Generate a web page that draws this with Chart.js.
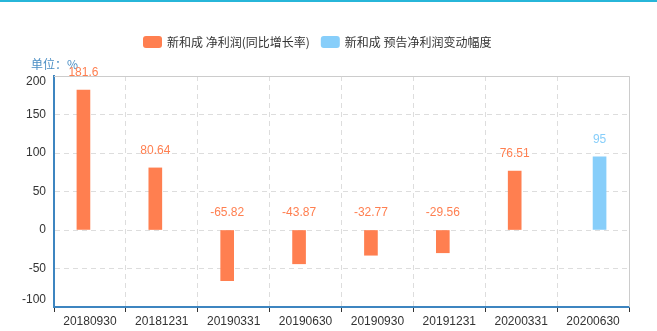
<!DOCTYPE html>
<html><head><meta charset="utf-8">
<script src="https://cdn.jsdelivr.net/npm/chart.js@4/dist/chart.umd.min.js"></script>
<style>html,body{margin:0;padding:0;background:#fff;}#wrap{width:657px;height:331px;}</style>
</head><body><div id="wrap"><canvas id="c" width="657" height="331"></canvas></div>
<script>
const categories = ['20180930','20181231','20190331','20190630','20190930','20191231','20200331','20200630'];
const profitGrowth = [181.6, 80.64, -65.82, -43.87, -32.77, -29.56, 76.51, null];
const forecastChange = [null, null, null, null, null, null, null, 95];
const seriesNames = ['新和成 净利润(同比增长率)', '新和成 预告净利润变动幅度'];
const yTicks = [200, 150, 100, 50, 0, -50, -100];
const unitText = '单位：%';

const ORANGE = '#ff7f50', BLUE = '#87cefa';
const CJK = '"Noto Sans CJK SC", "Noto Sans", sans-serif';
const LAT = '"Liberation Sans", Arial, sans-serif';

const deco = {
  id: 'deco',
  beforeDraw(chart) {
    const ctx = chart.ctx;
    ctx.save();
    ctx.fillStyle = '#fff';
    ctx.fillRect(0, 0, chart.width, chart.height);
    ctx.fillStyle = '#27b6d9';
    ctx.fillRect(0, 0, chart.width, 2);
    ctx.restore();
  },
  afterDraw(chart) {
    const ctx = chart.ctx, a = chart.chartArea, ys = chart.scales.y;
    ctx.save();
    // top and right border
    ctx.strokeStyle = '#cccccc';
    ctx.lineWidth = 1;
    ctx.beginPath();
    ctx.moveTo(a.left, a.top + 0.5); ctx.lineTo(a.right + 0.5, a.top + 0.5);
    ctx.lineTo(a.right + 0.5, a.bottom);
    ctx.stroke();
    // y labels
    ctx.font = '12px ' + LAT;
    ctx.fillStyle = '#333';
    ctx.textAlign = 'right';
    ctx.textBaseline = 'middle';
    yTicks.forEach(v => {
      let py = ys.getPixelForValue(v);
      py = Math.max(a.top + 6, Math.min(a.bottom - 7, py));
      ctx.fillText(String(v), 46, py);
    });
    // unit
    ctx.font = '12px ' + CJK;
    ctx.fillStyle = '#4a8ec4';
    ctx.textAlign = 'left';
    ctx.fillText(unitText, 31, 64);
    // data labels
    ctx.font = '12px ' + LAT;
    ctx.textAlign = 'center';
    chart.data.datasets.forEach((ds, di) => {
      const meta = chart.getDatasetMeta(di);
      meta.data.forEach((el, i) => {
        const v = ds.data[i];
        if (v === null || v === undefined) return;
        const top = ys.getPixelForValue(Math.max(0, v));
        ctx.fillStyle = ds.backgroundColor;
        ctx.fillText(String(v), el.x, top - 17);
      });
    });
    // legend
    let x = 143;
    const ly = 42;
    ctx.font = '12px ' + CJK;
    ctx.textAlign = 'left';
    chart.data.datasets.forEach((ds, di) => {
      ctx.fillStyle = ds.backgroundColor;
      ctx.beginPath();
      if (ctx.roundRect) ctx.roundRect(x, ly - 6, 19, 12, 3); else ctx.rect(x, ly - 6, 19, 12);
      ctx.fill();
      x += 24;
      ctx.fillStyle = '#333';
      ctx.fillText(ds.label, x, ly);
      x += ctx.measureText(ds.label).width + 11;
    });
    ctx.restore();
  }
};

new Chart(document.getElementById('c'), {
  type: 'bar',
  data: {
    labels: categories,
    datasets: [
      { label: seriesNames[0], data: profitGrowth, backgroundColor: ORANGE },
      { label: seriesNames[1], data: forecastChange, backgroundColor: BLUE }
    ]
  },
  options: {
    responsive: false,
    animation: false,
    devicePixelRatio: 1,
    layout: { padding: { top: 76, right: 28, left: 0, bottom: 0 } },
    barThickness: 13,
    categoryPercentage: 0.44,
    plugins: { legend: { display: false }, tooltip: { enabled: false } },
    scales: {
      x: {
        afterFit(s) { s.height = 24; },
        grid: { color: '#dddddd', offset: true, tickLength: 5, tickColor: '#333', drawTicks: true },
        border: { color: '#3d85c0', width: 2, dash: [5, 4] },
        ticks: { color: '#333', font: { family: LAT, size: 12 }, padding: 2, maxRotation: 0, autoSkip: false }
      },
      y: {
        min: -100, max: 200,
        afterFit(s) { s.width = 54; },
        grid: { color: '#dddddd', drawTicks: false },
        border: { color: '#3d85c0', width: 2, dash: [5, 4] },
        ticks: { display: false, stepSize: 50 }
      }
    }
  },
  plugins: [deco]
});
</script></body></html>
